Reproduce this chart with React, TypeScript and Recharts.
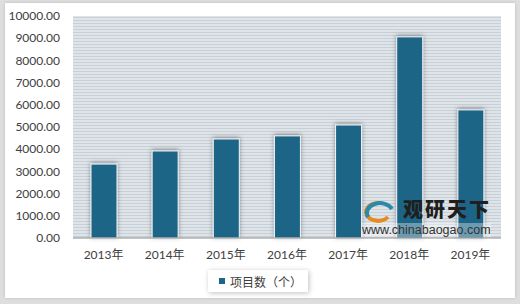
import React from "react";
import { BarChart, Bar, XAxis, YAxis, CartesianGrid } from "recharts";

const years = ["2013年", "2014年", "2015年", "2016年", "2017年", "2018年", "2019年"];
const projectCounts = [3330, 3920, 4460, 4600, 5090, 9060, 5770];
const yTicks = [0, 1000, 2000, 3000, 4000, 5000, 6000, 7000, 8000, 9000, 10000];
const seriesName = "项目数（个）";

const data = years.map((year, i) => ({ year, value: projectCounts[i] }));

const FONT = "Lato, 'Noto Sans CJK SC', sans-serif";
const BAR_COLOR = "#1b6587";

function ShadowBar(props: any) {
  const { x, y, width, height } = props;
  if (!height || height <= 0) return null;
  return (
    <rect
      x={x}
      y={y}
      width={width}
      height={height}
      fill={BAR_COLOR}
      stroke="#f2f5f7"
      strokeWidth={1}
      filter="url(#barShadow)"
    />
  );
}

function LegendBox() {
  return (
    <div
      style={{
        position: "absolute",
        left: 208,
        top: 270,
        width: 100,
        height: 22,
        background: "#fff",
        boxShadow: "1px 1px 5px rgba(0,0,0,0.25)",
        display: "flex",
        alignItems: "center",
        fontFamily: FONT,
        fontSize: 12,
        color: "#404040",
      }}
    >
      <span style={{ width: 6, height: 6, background: BAR_COLOR, marginLeft: 11, marginRight: 5 }} />
      <span>{seriesName}</span>
    </div>
  );
}

export default function App() {
  return (
    <div style={{ position: "fixed", left: 0, top: 0, width: 520, height: 304, background: "#dedede" }}>
      <div
        style={{
          position: "absolute",
          left: 5,
          top: 3,
          width: 510,
          height: 295,
          background: "#fff",
          boxShadow: "0 0 3px rgba(0,0,0,0.15)",
        }}
      />
      <div style={{ position: "absolute", left: 0, top: 0 }}>
        <BarChart
          width={520}
          height={304}
          data={data}
          margin={{ top: 16, right: 19, bottom: 16, left: 0 }}
        >
          <defs>
            <pattern id="stripes" width="6" height="3" patternUnits="userSpaceOnUse">
              <rect x="0" y="0" width="6" height="3" fill="#dfe4e9" />
              <rect x="0" y="2" width="6" height="1" fill="#c8d0d7" />
            </pattern>
            <filter id="barShadow" x="-40%" y="-10%" width="180%" height="120%">
              <feDropShadow dx="0" dy="-1" stdDeviation="2" floodColor="#404040" floodOpacity="0.55" />
            </filter>
          </defs>
          <CartesianGrid fill="url(#stripes)" fillOpacity={1} horizontal={false} vertical={false} />
          <XAxis
            dataKey="year"
            tickSize={0}
            tickMargin={12}
            axisLine={{ stroke: "#8c8c8c", strokeWidth: 1 }}
            tick={{ fontFamily: FONT, fontSize: 12, fill: "#404040" }}
            height={50}
          />
          <YAxis
            domain={[0, 10000]}
            ticks={yTicks}
            interval={0}
            width={73}
            tickSize={0}
            tickMargin={13}
            axisLine={false}
            tickFormatter={(v: number) => v.toFixed(2)}
            tick={{ fontFamily: FONT, fontSize: 12, fill: "#404040" }}
          />
          <Bar
            dataKey="value"
            name={seriesName}
            barSize={26}
            fill={BAR_COLOR}
            shape={ShadowBar}
            isAnimationActive={false}
          />
        </BarChart>
      </div>
      <LegendBox />
      {/* watermark */}
      <div style={{ position: "absolute", left: 358, top: 197, width: 140, height: 42, pointerEvents: "none" }}>
        <svg width={140} height={42} style={{ position: "absolute", left: 0, top: 0 }}>
          <path d="M 22 6 A 12 9 0 1 0 30 20" fill="none" stroke="#e98a1c" strokeWidth={4} />
          <path d="M 10 20 A 12 9 0 1 1 34 12" fill="none" stroke="#2a8aa8" strokeWidth={4} />
        </svg>
        <div
          style={{
            position: "absolute",
            left: 45,
            top: 1,
            fontFamily: "'Noto Sans CJK SC', sans-serif",
            fontWeight: 900,
            fontSize: 20,
            letterSpacing: 2,
            color: "#1f1f1f",
            lineHeight: "22px",
          }}
        >
          观研天下
        </div>
        <div
          style={{
            position: "absolute",
            left: 4,
            top: 26,
            fontFamily: "'Liberation Sans', Arial, sans-serif",
            fontSize: 12.5,
            color: "#333",
            lineHeight: "14px",
            background: "rgba(255,255,255,0.35)",
          }}
        >
          www.chinabaogao.com
        </div>
      </div>
    </div>
  );
}
